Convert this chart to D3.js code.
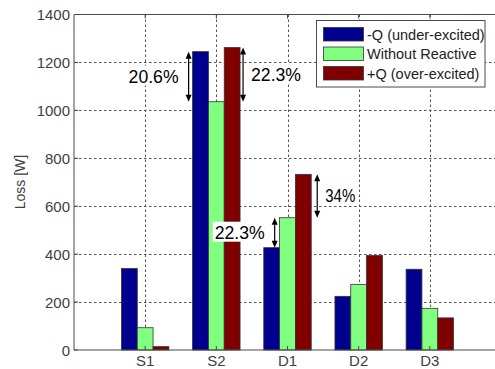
<!DOCTYPE html>
<html>
<head>
<meta charset="utf-8">
<script src="https://cdn.jsdelivr.net/npm/d3@7"></script>
<style>
  body { margin: 0; background: #fff; }
  svg { display: block; font-family: Arial, "Liberation Sans", sans-serif; }
</style>
</head>
<body>
<div id="chart"></div>
<script>
// grouped loss bars, three reactive power cases per bus

let categories = ["S1", "S2", "D1", "D2", "D3"];
let seriesNames = ["-Q (under-excited)", "Without Reactive", "+Q (over-excited)"];
let seriesColors = ["#00008f", "#80ff80", "#800000"];

let underExcited = [340, 1245, 427, 224, 337];
let withoutReactive = [93, 1036, 552, 274, 174];
let overExcited = [14, 1262, 733, 394, 134];
let series = [underExcited, withoutReactive, overExcited];

let yTicks = [0, 200, 400, 600, 800, 1000, 1200, 1400];

// difference arrows: category, from series, to series, label, side of label
let notes = [
  {cat: "S2", from: 0, to: 1, label: "20.6%", side: "left"},
  {cat: "S2", from: 2, to: 1, label: "22.3%", side: "right"},
  {cat: "D1", from: 0, to: 1, label: "22.3%", side: "left"},
  {cat: "D1", from: 2, to: 1, label: "34%", side: "right"}
];

let width = 495;
let height = 369;
let mLeft = 74, mRight = 501, mTop = 14.5, mBottom = 350;

let svg = d3.select("#chart").append("svg")
  .attr("width", width).attr("height", height);

svg.append("rect").attr("width", width).attr("height", height).attr("fill", "#fff");

let xScale = d3.scaleLinear().domain([0, categories.length + 1]).range([mLeft, mRight]);
let yScale = d3.scaleLinear().domain([0, 1400]).range([mBottom, mTop]);

let axisColor = "#4a4a4a";
let textColor = "#404040";

// grid lines
let grid = svg.append("g").attr("stroke", "#555").attr("stroke-width", 1)
  .attr("stroke-dasharray", "2.5,2.5");
grid.selectAll("line.h").data(yTicks.slice(1, -1)).enter().append("line")
  .attr("x1", mLeft).attr("x2", mRight)
  .attr("y1", d => Math.round(yScale(d)) + 0.5).attr("y2", d => Math.round(yScale(d)) + 0.5);
grid.selectAll("line.v").data(categories).enter().append("line")
  .attr("x1", (d, i) => Math.round(xScale(i + 1)) + 0.5)
  .attr("x2", (d, i) => Math.round(xScale(i + 1)) + 0.5)
  .attr("y1", mTop).attr("y2", mBottom);

// bars
let groupW = 2 / 3;
let barW = groupW / 3;
let barPx = xScale(barW) - xScale(0);
let barX = (ci, si) => xScale(ci + 1 - groupW / 2 + si * barW);

series.forEach((vals, si) => {
  svg.append("g").selectAll("rect").data(vals).enter().append("rect")
    .attr("x", (d, ci) => barX(ci, si))
    .attr("width", barPx)
    .attr("y", d => yScale(d))
    .attr("height", d => yScale(0) - yScale(d))
    .attr("fill", seriesColors[si])
    .attr("stroke", "#333")
    .attr("stroke-width", 0.8);
});

// axes box
let ax = svg.append("g").attr("stroke", axisColor).attr("stroke-width", 1).attr("fill", "none");
ax.append("line").attr("x1", mLeft).attr("x2", mLeft).attr("y1", mTop).attr("y2", mBottom);
ax.append("line").attr("x1", mLeft).attr("x2", mRight).attr("y1", mBottom).attr("y2", mBottom);
ax.append("line").attr("x1", mLeft).attr("x2", mRight).attr("y1", mTop).attr("y2", mTop);

// inward ticks
ax.selectAll("line.yt").data(yTicks).enter().append("line")
  .attr("x1", mLeft).attr("x2", mLeft + 4)
  .attr("y1", d => yScale(d)).attr("y2", d => yScale(d));
ax.selectAll("line.xt").data(categories).enter().append("line")
  .attr("x1", (d, i) => xScale(i + 1)).attr("x2", (d, i) => xScale(i + 1))
  .attr("y1", mTop).attr("y2", mTop + 4);
ax.selectAll("line.xb").data(categories).enter().append("line")
  .attr("x1", (d, i) => xScale(i + 1)).attr("x2", (d, i) => xScale(i + 1))
  .attr("y1", mBottom).attr("y2", mBottom - 4);

// tick labels
svg.append("g").selectAll("text").data(yTicks).enter().append("text")
  .attr("x", mLeft - 4)
  .attr("y", d => yScale(d) + 5.5)
  .attr("text-anchor", "end")
  .attr("font-size", 15)
  .attr("fill", textColor)
  .text(d => d);

svg.append("g").selectAll("text").data(categories).enter().append("text")
  .attr("x", (d, i) => xScale(i + 1))
  .attr("y", 366)
  .attr("text-anchor", "middle")
  .attr("font-size", 15)
  .attr("fill", textColor)
  .text(d => d);

svg.append("text")
  .attr("transform", "translate(25,182) rotate(-90)")
  .attr("text-anchor", "middle")
  .attr("font-size", 14)
  .attr("fill", textColor)
  .text("Loss [W]");

// difference arrows with labels
function arrow(x, y1, y2) {
  let g = svg.append("g");
  let up = Math.min(y1, y2), down = Math.max(y1, y2);
  g.append("line").attr("x1", x).attr("x2", x).attr("y1", up + 5).attr("y2", down - 5)
    .attr("stroke", "#000").attr("stroke-width", 1.2);
  g.append("path").attr("d", `M${x},${up} L${x - 3},${up + 7} L${x + 3},${up + 7} Z`).attr("fill", "#000");
  g.append("path").attr("d", `M${x},${down} L${x - 3},${down - 7} L${x + 3},${down - 7} Z`).attr("fill", "#000");
}

notes.forEach(n => {
  let ci = categories.indexOf(n.cat);
  let y1 = yScale(series[n.from][ci]);
  let y2 = yScale(series[n.to][ci]);
  let x;
  if (n.side === "left" && ci === 1) x = barX(ci, 0) - 4;
  else if (n.side === "left") x = barX(ci, 0) + barPx / 2 + 3;
  else x = barX(ci, 3) + (ci === 1 ? 3 : 6);
  arrow(x, y1, y2);

  let tw = n.label.length * 10;
  let cx = n.side === "left" ? x - 10 - tw / 2 : x + 8 + tw / 2;
  let cy = (y1 + y2) / 2 - 1;
  svg.append("rect")
    .attr("x", cx - tw / 2 - 2).attr("y", cy - 10)
    .attr("width", tw + 4).attr("height", 20)
    .attr("fill", "#fff");
  svg.append("text")
    .attr("x", cx - tw / 2).attr("y", cy + 7)
    .attr("font-size", 19)
    .attr("textLength", tw)
    .attr("lengthAdjust", "spacingAndGlyphs")
    .attr("fill", "#000")
    .text(n.label);
});

// legend
let lg = svg.append("g");
lg.append("rect").attr("x", 316.5).attr("y", 20.5).attr("width", 168.5).attr("height", 66.5)
  .attr("fill", "#fff").attr("stroke", axisColor);
seriesNames.forEach((name, i) => {
  lg.append("rect").attr("x", 323.5).attr("y", 27.5 + i * 19.5)
    .attr("width", 40).attr("height", 13.5)
    .attr("fill", seriesColors[i]).attr("stroke", "#333").attr("stroke-width", 0.8);
  lg.append("text").attr("x", 367).attr("y", 39.5 + i * 19.5)
    .attr("font-size", 14.5).attr("fill", "#222")
    .text(name);
});
</script>
</body>
</html>
